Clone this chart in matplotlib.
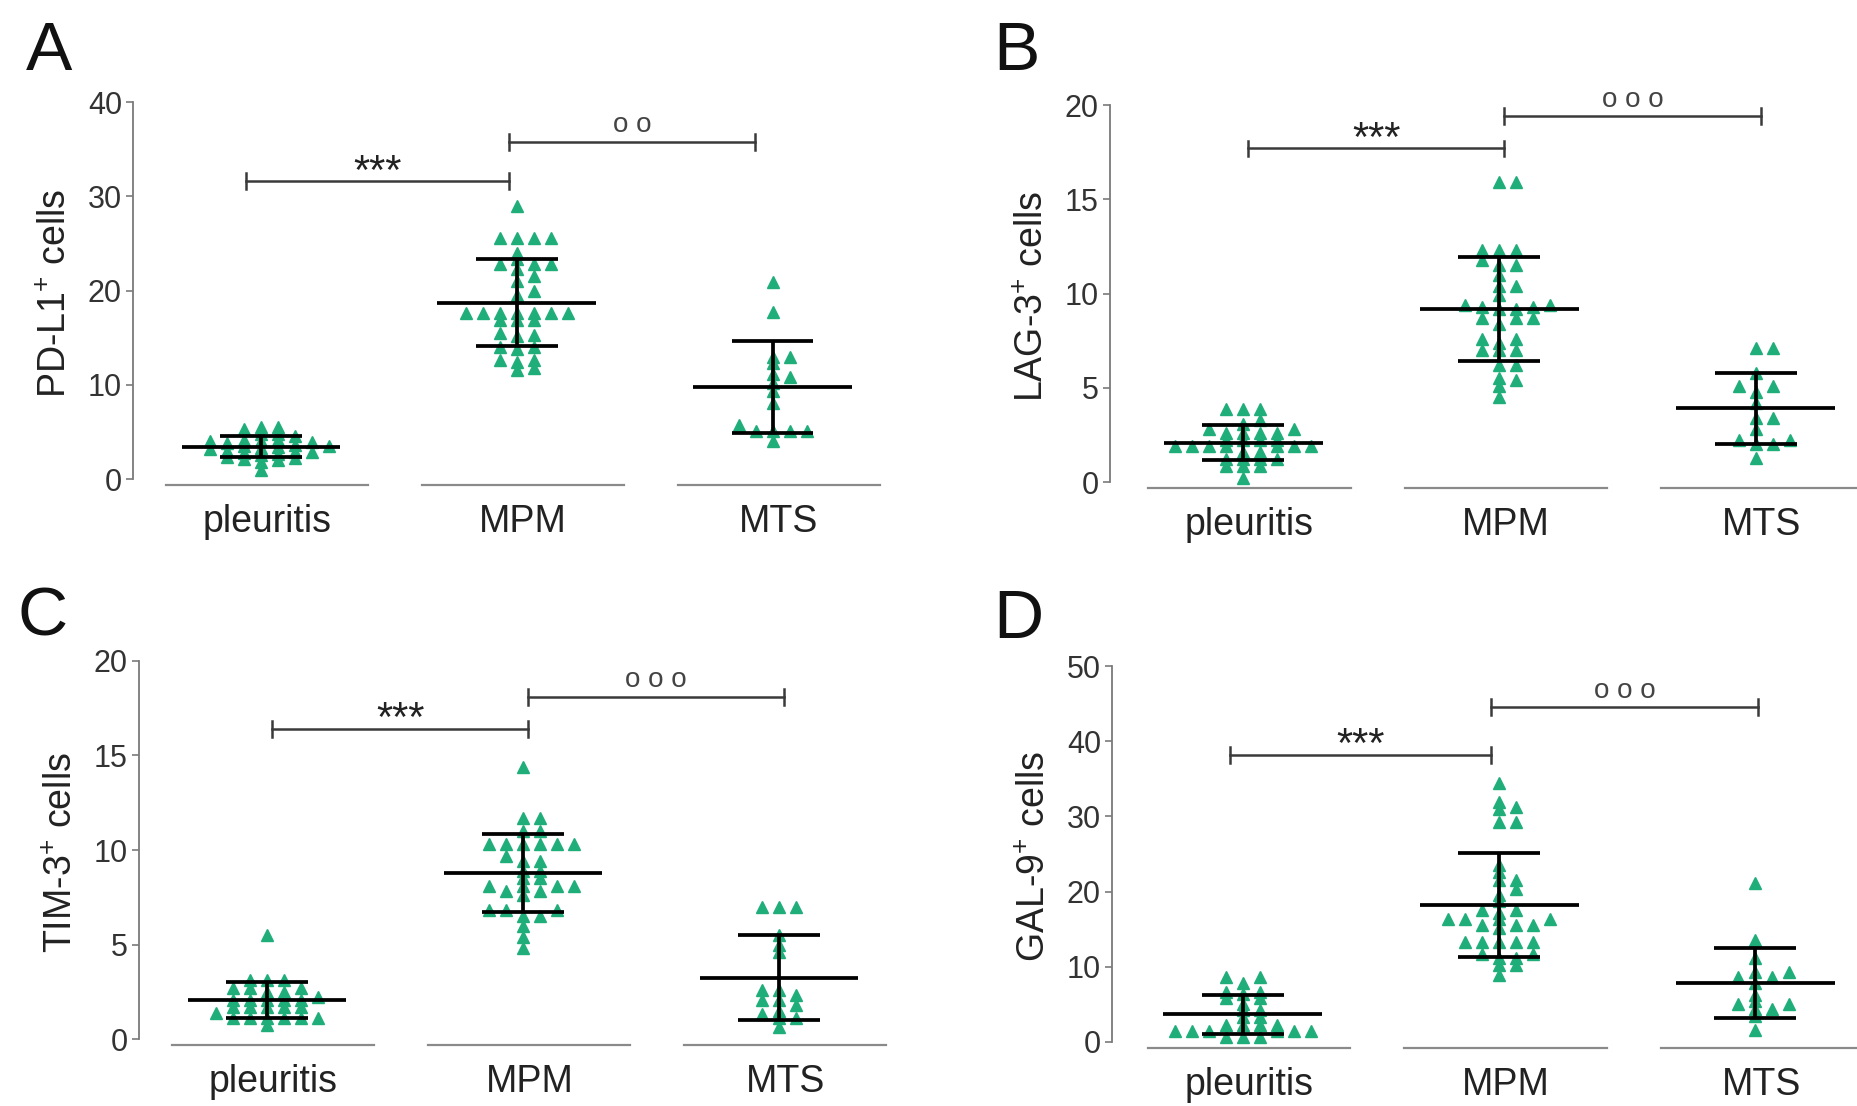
import numpy as np
import matplotlib.pyplot as plt

plt.rcParams['font.family'] = ['Liberation Sans', 'DejaVu Sans']
plt.rcParams['mathtext.fontset'] = 'custom'
plt.rcParams['mathtext.rm'] = 'Liberation Sans'
plt.rcParams['mathtext.default'] = 'regular'

groups = ['pleuritis', 'MPM', 'MTS']

# A: PD-L1+ cells
pdl1_pleuritis = [5.5, 5.5, 5.3, 4.8, 4.8, 4.6, 4.2, 4.1, 4.0, 4.0, 3.9, 3.8, 3.6, 3.5, 3.5,
                  3.4, 3.3, 3.2, 3.0, 2.9, 2.9, 2.8, 2.7, 2.6, 2.3, 2.2, 2.1, 2.0, 1.8, 1.0]
pdl1_mpm = [29.0, 25.6, 25.6, 25.6, 25.6, 24.0, 23.3, 22.8, 22.8, 22.8, 22.3, 21.5, 21.0,
            20.0, 19.5, 17.6, 17.6, 17.6, 17.6, 17.6, 17.6, 17.6, 16.9, 16.9, 16.9,
            15.5, 15.3, 15.2, 14.0, 14.0, 13.8, 12.6, 12.6, 12.4, 11.8, 11.6]
pdl1_mts = [20.9, 17.7, 13.0, 13.0, 12.3, 11.1, 10.8, 10.2, 9.3, 8.1, 5.7, 5.1, 5.1, 5.1, 5.1, 4.0]

# B: LAG-3+ cells
lag3_pleuritis = [3.9, 3.9, 3.9, 3.3, 3.1, 2.8, 2.8, 2.6, 2.6, 2.6, 2.6, 2.25, 2.25, 2.25, 2.25,
                  1.9, 1.9, 1.9, 1.9, 1.9, 1.9, 1.9, 1.6, 1.6, 1.2, 1.2, 1.2, 1.2, 0.85, 0.85, 0.85, 0.2]
lag3_mpm = [15.9, 15.9, 12.3, 12.3, 12.3, 11.8, 11.5, 11.5, 11.0, 10.4, 10.4, 9.9,
            9.4, 9.4, 9.3, 9.3, 9.2, 9.2, 8.7, 8.7, 8.7, 8.4, 7.6, 7.6, 7.4,
            7.0, 7.0, 7.0, 6.2, 6.2, 5.5, 5.4, 5.1, 4.5]
lag3_mts = [7.1, 7.1, 5.8, 5.1, 5.1, 4.8, 4.2, 3.4, 3.4, 2.8, 2.25, 2.25, 2.0, 2.0, 1.3]

# C: TIM-3+ cells
tim3_pleuritis = [5.5, 3.1, 3.1, 3.1, 2.7, 2.7, 2.7, 2.5, 2.5, 2.25, 2.05, 2.05, 2.05, 2.05,
                  2.05, 1.7, 1.7, 1.7, 1.7, 1.7, 1.4, 1.1, 1.1, 1.1, 1.1, 1.1, 1.1, 0.75]
tim3_mpm = [14.4, 11.7, 11.7, 11.0, 11.0, 10.3, 10.3, 10.3, 10.3, 10.3, 10.3, 9.7, 9.4, 9.4,
            8.9, 8.9, 8.5, 8.5, 8.1, 8.1, 8.1, 8.1, 7.85, 7.85, 7.6, 6.8, 6.8, 6.8,
            6.5, 6.5, 6.0, 5.4, 4.8]
tim3_mts = [7.0, 7.0, 7.0, 5.5, 4.95, 4.6, 2.6, 2.6, 2.35, 2.05, 2.05, 1.8, 1.5, 1.3, 1.1, 1.1, 0.65]

# D: GAL-9+ cells
gal9_pleuritis = [8.6, 8.6, 7.9, 6.6, 6.6, 6.4, 5.8, 5.8, 5.1, 4.2, 4.2, 3.3, 3.3,
                  2.3, 2.3, 2.3, 2.3, 1.4, 1.4, 1.4, 1.4, 1.4, 1.4, 0.7, 0.7, 0.7]
gal9_mpm = [34.5, 31.9, 31.2, 31.0, 29.2, 29.2, 23.6, 22.6, 21.5, 21.5, 20.3, 19.6, 18.7,
            17.5, 17.5, 17.2, 16.3, 16.3, 16.3, 16.3, 15.6, 15.6, 15.6, 15.2,
            13.3, 13.3, 13.3, 13.3, 13.3, 11.7, 11.7, 11.2, 11.2, 10.3, 10.3, 8.9]
gal9_mts = [21.2, 13.5, 11.2, 9.3, 9.3, 8.6, 8.6, 7.9, 6.3, 5.4, 5.1, 5.1, 4.4, 4.4, 3.5, 1.6]

panels = [
    dict(letter='A', ylabel='PD-L1$^{+}$ cells', top=40, step=10,
         data=[pdl1_pleuritis, pdl1_mpm, pdl1_mts],
         sig=[(31.6, '***'), (35.8, 'o o')],
         rect=[0.0716, 0.5617, 0.402, 0.346], xlim=(-0.50, 2.42),
         bars=[(-0.06, 0.97), (0.97, 1.93)], letter_xy=(26, 20)),
    dict(letter='B', ylabel='LAG-3$^{+}$ cells', top=20, step=5,
         data=[lag3_pleuritis, lag3_mpm, lag3_mts],
         sig=[(17.7, '***'), (19.4, 'o o o')],
         rect=[0.5974, 0.559, 0.4026, 0.346], xlim=(-0.52, 2.40),
         bars=[(0.02, 1.02), (1.02, 2.02)], letter_xy=(993, 20)),
    dict(letter='C', ylabel='TIM-3$^{+}$ cells', top=20, step=5,
         data=[tim3_pleuritis, tim3_mpm, tim3_mts],
         sig=[(16.4, '***'), (18.1, 'o o o')],
         rect=[0.0748, 0.0554, 0.4037, 0.347], xlim=(-0.50, 2.43),
         bars=[(0.02, 1.02), (1.02, 2.02)], letter_xy=(18, 586)),
    dict(letter='D', ylabel='GAL-9$^{+}$ cells', top=50, step=10,
         data=[gal9_pleuritis, gal9_mpm, gal9_mts],
         sig=[(38.2, '***'), (44.5, 'o o o')],
         rect=[0.5985, 0.0528, 0.4015, 0.345], xlim=(-0.51, 2.40),
         bars=[(-0.05, 0.97), (0.97, 2.01)], letter_xy=(993, 588)),
]

W, H = 1858, 1106
point_color = '#1fae7a'


def swarm(values, ppu_y, ppu_x=256.0, d=17.0, h=6.0):
    # simple beeswarm in pixel space, returns x offsets in data units
    values = np.asarray(values, dtype=float)
    order = np.argsort(values)
    placed = []
    offs = np.zeros(len(values))
    ks = [0]
    for k in range(1, 30):
        ks += [k, -k]
    for idx in order:
        y = values[idx] * ppu_y
        for k in ks:
            x = k * d / 2
            if all(not (abs(x - px) < 0.9 * d and abs(y - py) < h) for px, py in placed):
                break
        placed.append((x, y))
        offs[idx] = x / ppu_x
    return offs


fig = plt.figure(figsize=(W / 100, H / 100), dpi=100)

for p in panels:
    ax = fig.add_axes(p['rect'])
    top = p['top']
    ax.set_ylim(-0.015 * top, top)
    ax.set_xlim(*p['xlim'])
    ppu_y = p['rect'][3] * H / (1.015 * top)
    ppu_x = p['rect'][2] * W / (p['xlim'][1] - p['xlim'][0])

    for i, vals in enumerate(p['data']):
        vals = np.asarray(vals)
        xs = i + swarm(vals, ppu_y, ppu_x)
        ax.plot(xs, vals, '^', ms=8, color=point_color, mec=point_color, zorder=2)
        m, sd = vals.mean(), vals.std(ddof=1)
        ax.hlines(m, i - 0.31, i + 0.31, color='black', lw=2.7, zorder=3)
        ax.hlines([m - sd, m + sd], i - 0.16, i + 0.16, color='black', lw=2.7, zorder=3)
        ax.vlines(i, m - sd, m + sd, color='black', lw=2.7, zorder=3)
        # segmented category baseline
        ax.plot([i - 0.37, i + 0.42], [0, 0], color='#8a8a8a', lw=1.6,
                transform=ax.get_xaxis_transform(), clip_on=False)

    cap = 0.021 * top
    for (x1, x2), (y, txt) in zip(p['bars'], p['sig']):
        ax.plot([x1, x2], [y, y], color='#3a3a3a', lw=1.8)
        ax.plot([x1, x1], [y - cap, y + cap], color='#3a3a3a', lw=1.8)
        ax.plot([x2, x2], [y - cap, y + cap], color='#3a3a3a', lw=1.8)
        if txt == '***':
            ax.text((x1 + x2) / 2, y - 0.006 * top, txt, ha='center', va='baseline',
                    fontsize=30, color='#222222')
        else:
            ax.text((x1 + x2) / 2, y + 0.026 * top, txt, ha='center', va='baseline',
                    fontsize=20, color='#444444')

    for s in ['top', 'right', 'bottom']:
        ax.spines[s].set_visible(False)
    ax.spines['left'].set_bounds(0, top)
    ax.spines['left'].set_color('#7a7a7a')
    ax.spines['left'].set_linewidth(1.3)
    ax.set_yticks(np.arange(0, top + 1, p['step']))
    ax.tick_params(axis='y', length=5, width=1.2, color='#7a7a7a',
                   labelsize=22, labelcolor='#333333', pad=3)
    ax.set_xticks([i + 0.025 for i in range(3)])
    ax.set_xticklabels(groups)
    ax.tick_params(axis='x', length=0, labelsize=27, labelcolor='#222222', pad=14)
    ax.set_ylabel(p['ylabel'], fontsize=27, color='#222222')
    ax_w = p['rect'][2] * W
    ax.yaxis.set_label_coords(-59 / ax_w, 0.5)

    fig.text(p['letter_xy'][0] / W, 1 - p['letter_xy'][1] / H, p['letter'],
             fontsize=50, ha='left', va='top', color='#111111')

fig.savefig('out.png', dpi=100)
